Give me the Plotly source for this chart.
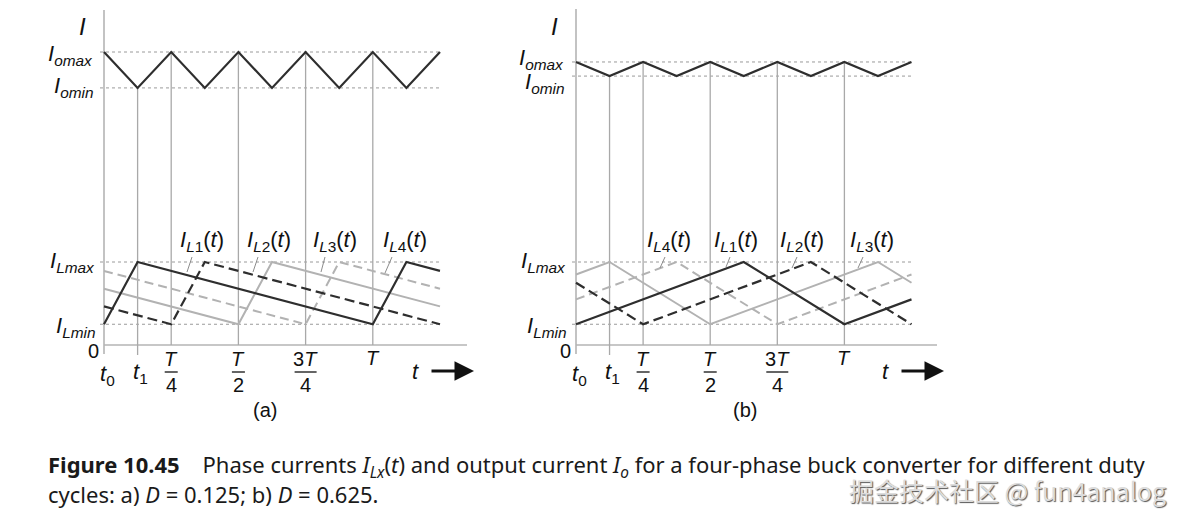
import plotly.graph_objects as go

W, H = 1183, 522

# ---------------- data (time in units of T, current in arbitrary units) ----------------
t_io = [0, 0.125, 0.25, 0.375, 0.5, 0.625, 0.75, 0.875, 1.0, 1.125, 1.25]
io_a = [14.12, 12.39, 14.12, 12.39, 14.12, 12.39, 14.12, 12.39, 14.12, 12.39, 14.12]
io_b = [13.64, 12.96, 13.64, 12.96, 13.64, 12.96, 13.64, 12.96, 13.64, 12.96, 13.64]
io_a_levels = [14.12, 12.39]   # Iomax, Iomin  (a)
io_b_levels = [13.64, 12.96]   # Iomax, Iomin  (b)
il_levels = [4.0, 1.0]         # ILmax, ILmin

# phase currents, panel (a): D = 0.125
a_l1_t = [0, 0.125, 1.0, 1.125, 1.25]
a_l1_i = [1.0, 4.0, 1.0, 4.0, 3.57]
a_l2_t = [0, 0.25, 0.375, 1.25]
a_l2_i = [1.86, 1.0, 4.0, 1.0]
a_l3_t = [0, 0.5, 0.625, 1.25]
a_l3_i = [2.71, 1.0, 4.0, 1.86]
a_l4_t = [0, 0.75, 0.875, 1.25]
a_l4_i = [3.57, 1.0, 4.0, 2.71]

# phase currents, panel (b): D = 0.625
b_l1_t = [0, 0.625, 1.0, 1.25]
b_l1_i = [1.0, 4.0, 1.0, 2.2]
b_l2_t = [0, 0.25, 0.875, 1.25]
b_l2_i = [3.0, 1.0, 4.0, 1.0]
b_l3_t = [0, 0.125, 0.5, 1.125, 1.25]
b_l3_i = [3.4, 4.0, 1.0, 4.0, 3.0]
b_l4_t = [0, 0.375, 0.75, 1.25]
b_l4_i = [2.2, 4.0, 1.0, 3.4]

mark_t = [0.125, 0.25, 0.5, 0.75, 1.0]
frac_num = ["<i>T</i>", "<i>T</i>", "3<i>T</i>"]
frac_den = ["4", "2", "4"]
frac_t = [0.25, 0.5, 0.75]

labels_a = ["1", "2", "3", "4"]
labels_b = ["4", "1", "2", "3"]

# ---------------- geometry ----------------
Y0PX, UPX = 345.0, 20.75
YDOM_PX = (0, 440)
panels = {
    "a": dict(xa="x", ya="y", x0px=104.0, tpx=268.8, dom=(40, 482)),
    "b": dict(xa="x2", ya="y2", x0px=576.0, tpx=268.4, dom=(505, 952)),
}


def px2t(p, px):
    return (px - p["x0px"]) / p["tpx"]


def py2i(py):
    return (Y0PX - py) / UPX


FONT = "Liberation Sans, Arial, sans-serif"
BLACK = "#2e2e2e"
GRAY = "#b2b2b2"
VGRAY = "#a9a9a9"
AXGRAY = "#b4b4b4"
DOT = "#9a9a9a"

fig = go.Figure()
shapes = []
annots = []


def line(p, xs, ys, color, width, dash="solid"):
    fig.add_trace(go.Scatter(x=xs, y=ys, mode="lines", xaxis=p["xa"], yaxis=p["ya"],
                             line=dict(color=color, width=width, dash=dash),
                             hoverinfo="skip", showlegend=False))


def ann(p, px, py, text, size=21, xanchor="center", yanchor="middle", color="#111"):
    annots.append(dict(xref=p["xa"], yref=p["ya"], x=px2t(p, px), y=py2i(py), text=text,
                       showarrow=False, xanchor=xanchor, yanchor=yanchor,
                       font=dict(family=FONT, size=size, color=color)))


def build(key, io, io_lv, phases, lab_order, lab_px, leaders, ilab_right, io_lab_y, top_px):
    p = panels[key]
    xend = 1.25
    # dotted reference levels
    for lv in list(io_lv) + il_levels:
        line(p, [px2t(p, p["x0px"] - 4), xend], [lv, lv], DOT, 1, "dot")
    # axes
    line(p, [0, 0], [py2i(354), py2i(top_px)], AXGRAY, 1.6)
    line(p, [0, px2t(p, 467 if key == "a" else 937)], [0, 0], AXGRAY, 1.6)
    # vertical marker lines
    for t in mark_t:
        if t == mark_t[0]:
            line(p, [t, t], [io_lv[1], py2i(355)], VGRAY, 1.3)
        else:
            line(p, [t, t], [io_lv[0], 0], VGRAY, 1.3)
    # phase currents (draw gray first)
    (l1t, l1i), (l2t, l2i), (l3t, l3i), (l4t, l4i) = phases
    line(p, l4t, l4i, GRAY, 2, "9px,5px")
    line(p, l3t, l3i, GRAY, 2)
    line(p, l2t, l2i, BLACK, 2.2, "10px,5px")
    line(p, l1t, l1i, BLACK, 2.2)
    # output current
    line(p, t_io, io, BLACK, 2.2)

    # labels
    ann(p, p["x0px"] - 22, 26, "<i>I</i>", 24)
    ann(p, ilab_right, io_lab_y[0], "<i>I</i><sub><i>omax</i></sub>", 22, xanchor="right")
    ann(p, ilab_right, io_lab_y[1], "<i>I</i><sub><i>omin</i></sub>", 22, xanchor="right")
    ann(p, ilab_right + 2, 262, "<i>I</i><sub><i>Lmax</i></sub>", 22, xanchor="right")
    ann(p, ilab_right + 2, 327, "<i>I</i><sub><i>Lmin</i></sub>", 22, xanchor="right")
    for name, cx in zip(lab_order, lab_px):
        ann(p, cx, 241, "<i>I</i><sub><i>L</i>%s</sub>(<i>t</i>)" % name, 22)
    for (x1, y1, x2, y2) in leaders:
        shapes.append(dict(type="line", xref=p["xa"], yref=p["ya"],
                           x0=px2t(p, x1), y0=py2i(y1), x1=px2t(p, x2), y1=py2i(y2),
                           line=dict(color="#8c8c8c", width=1)))
    # ticks
    ox = p["x0px"]
    ann(p, ox - 11, 351, "0", 20)
    annots.append(dict(xref=p["xa"], yref=p["ya"], x=0, y=py2i(375), xshift=3,
                       text="<i>t</i><sub>0</sub>", showarrow=False,
                       font=dict(family=FONT, size=22, color="#111")))
    annots.append(dict(xref=p["xa"], yref=p["ya"], x=mark_t[0], y=py2i(373), xshift=3,
                       text="<i>t</i><sub>1</sub>", showarrow=False,
                       font=dict(family=FONT, size=22, color="#111")))
    for t, num, den in zip(frac_t, frac_num, frac_den):
        annots.append(dict(xref=p["xa"], yref=p["ya"], x=t, y=py2i(359), text=num,
                           showarrow=False, font=dict(family=FONT, size=20, color="#111")))
        annots.append(dict(xref=p["xa"], yref=p["ya"], x=t, y=py2i(385), text=den,
                           showarrow=False, font=dict(family=FONT, size=20, color="#111")))
        half = 11 if num.startswith("3") else 6.5
        shapes.append(dict(type="line", xref=p["xa"], yref=p["ya"],
                           x0=t - half / p["tpx"], x1=t + half / p["tpx"],
                           y0=py2i(372), y1=py2i(372), line=dict(color="#111", width=1.3)))
    annots.append(dict(xref=p["xa"], yref=p["ya"], x=mark_t[-1], y=py2i(358), text="<i>T</i>",
                       showarrow=False, font=dict(family=FONT, size=20, color="#111")))
    # t arrow
    tx = 415 if key == "a" else 885
    ann(p, tx, 371, "<i>t</i>", 22)
    annots.append(dict(xref=p["xa"], yref=p["ya"], x=px2t(p, tx + 59), y=py2i(371),
                       ax=-44, ay=0, text="", showarrow=True, arrowhead=2,
                       arrowsize=1.3, arrowwidth=3, arrowcolor="#111"))
    # panel caption
    ann(p, 265 if key == "a" else 745, 410, "(%s)" % key, 20)


build("a", io_a, io_a_levels,
      [(a_l1_t, a_l1_i), (a_l2_t, a_l2_i), (a_l3_t, a_l3_i), (a_l4_t, a_l4_i)],
      labels_a, [202, 269, 335, 405],
      [(192, 257, 187, 272), (258, 257, 253, 272), (325, 257, 321, 272), (392, 257, 385, 273)],
      95, (55, 87), 10)
build("b", io_b, io_b_levels,
      [(b_l1_t, b_l1_i), (b_l2_t, b_l2_i), (b_l3_t, b_l3_i), (b_l4_t, b_l4_i)],
      labels_b, [669, 736, 802, 872],
      [(665, 257, 660, 268), (730, 257, 726, 267), (797, 257, 792, 268), (863, 257, 858, 268)],
      566, (59, 83), 9)

# figure caption
CAP = "Noto Sans, Open Sans, sans-serif"
annots.append(dict(xref="paper", yref="paper", x=46 / W, y=1 - 466 / H, xanchor="left",
                   yanchor="middle", showarrow=False, align="left",
                   text="<b>Figure 10.45</b>&nbsp;&nbsp;&nbsp;&nbsp;Phase currents <i>I</i><sub><i>Lx</i></sub>(<i>t</i>) "
                        "and output current <i>I</i><sub><i>o</i></sub> for a four-phase buck converter for different duty",
                   font=dict(family=CAP, size=22, color="#1a1a1a")))
annots.append(dict(xref="paper", yref="paper", x=46 / W, y=1 - 494 / H, xanchor="left",
                   yanchor="middle", showarrow=False, align="left",
                   text="cycles: a) <i>D</i> = 0.125; b) <i>D</i> = 0.625.",
                   font=dict(family=CAP, size=22, color="#1a1a1a")))
# watermark
annots.append(dict(xref="paper", yref="paper", x=1168 / W, y=1 - 490 / H, xanchor="right",
                   yanchor="middle", showarrow=False,
                   text="掘金技术社区 @ fun4analog",
                   font=dict(family="Noto Sans CJK SC, sans-serif", size=25, color="#dcdcdc",
                             shadow="1px 1px 1px #555")))

axis_common = dict(visible=False, showgrid=False, zeroline=False, fixedrange=True)
layout = dict(width=W, height=H, margin=dict(l=0, r=0, t=0, b=0),
              paper_bgcolor="white", plot_bgcolor="rgba(0,0,0,0)",
              showlegend=False, shapes=shapes, annotations=annots)
for key in ("a", "b"):
    p = panels[key]
    xn = "xaxis" if key == "a" else "xaxis2"
    yn = "yaxis" if key == "a" else "yaxis2"
    layout[xn] = dict(axis_common, domain=[p["dom"][0] / W, p["dom"][1] / W],
                      range=[px2t(p, p["dom"][0]), px2t(p, p["dom"][1])],
                      anchor="y" if key == "a" else "y2")
    layout[yn] = dict(axis_common, domain=[(H - YDOM_PX[1]) / H, 1 - YDOM_PX[0] / H],
                      range=[py2i(YDOM_PX[1]), py2i(YDOM_PX[0])],
                      anchor="x" if key == "a" else "x2")
fig.update_layout(**layout)

fig.write_html("out.html", config={"displayModeBar": False},
               post_script="document.body.style.margin='0';")
